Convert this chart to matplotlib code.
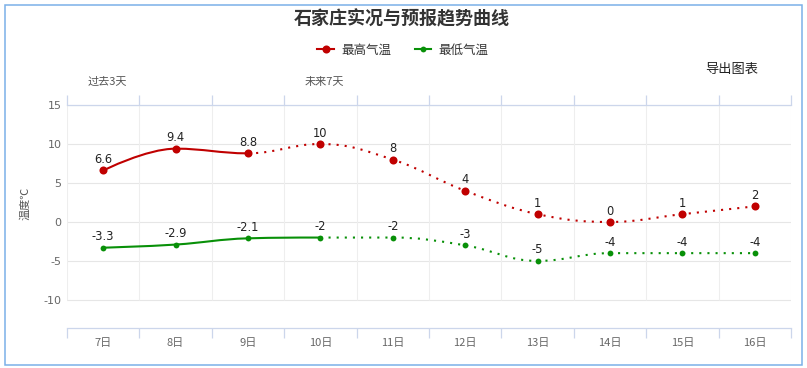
import numpy as np
import matplotlib.pyplot as plt
from matplotlib.path import Path
from matplotlib.patches import PathPatch, Rectangle
from matplotlib.lines import Line2D

plt.rcParams['font.family'] = ['Noto Sans CJK SC', 'DejaVu Sans']

# Datos
days = ['7日', '8日', '9日', '10日', '11日', '12日', '13日', '14日', '15日', '16日']
high = [6.6, 9.4, 8.8, 10, 8, 4, 1, 0, 1, 2]
low = [-3.3, -2.9, -2.1, -2, -2, -3, -5, -4, -4, -4]
high_past_end = 2   # índice donde termina el tramo observado (sólido)
low_past_end = 3
y_ticks = [-10, -5, 0, 5, 10, 15]

RED = '#c00000'
GREEN = '#089008'
AXIS = '#ccd6eb'


# Controles de la curva tipo "spline" (suavizado 1.5)
def spline_controls(xs, ys):
    n = len(xs)
    left = [(xs[i], ys[i]) for i in range(n)]
    right = [(xs[i], ys[i]) for i in range(n)]
    for i in range(1, n - 1):
        x, y = xs[i], ys[i]
        lx, ly = xs[i - 1], ys[i - 1]
        nx, ny = xs[i + 1], ys[i + 1]
        lcx, lcy = (1.5 * x + lx) / 2.5, (1.5 * y + ly) / 2.5
        rcx, rcy = (1.5 * x + nx) / 2.5, (1.5 * y + ny) / 2.5
        corr = (rcy - lcy) * (rcx - x) / (rcx - lcx) + y - rcy
        lcy += corr
        rcy += corr
        if lcy > ly and lcy > y:
            lcy = max(ly, y)
            rcy = 2 * y - lcy
        elif lcy < ly and lcy < y:
            lcy = min(ly, y)
            rcy = 2 * y - lcy
        if rcy > ny and rcy > y:
            rcy = max(ny, y)
            lcy = 2 * y - rcy
        elif rcy < ny and rcy < y:
            rcy = min(ny, y)
            lcy = 2 * y - rcy
        left[i] = (lcx, lcy)
        right[i] = (rcx, rcy)
    return left, right


def curve_path(xs, ys, left, right, i0, i1):
    verts = [(xs[i0], ys[i0])]
    codes = [Path.MOVETO]
    for i in range(i0 + 1, i1 + 1):
        verts += [right[i - 1], left[i], (xs[i], ys[i])]
        codes += [Path.CURVE4] * 3
    return Path(verts, codes)


def draw_series(ax, vals, split, color, ms):
    xs = list(range(len(vals)))
    left, right = spline_controls(xs, vals)
    ax.add_patch(PathPatch(curve_path(xs, vals, left, right, 0, split),
                           fill=False, edgecolor=color, lw=1.5, zorder=3))
    ax.add_patch(PathPatch(curve_path(xs, vals, left, right, split, len(vals) - 1),
                           fill=False, edgecolor=color, lw=1.5,
                           linestyle=(0, (1, 2.9)), zorder=3))
    ax.plot(xs, vals, linestyle='none', marker='o', ms=ms, color=color,
            mew=0, zorder=4)
    for x, v in zip(xs, vals):
        ax.annotate(f'{v:g}', (x, v), xytext=(0, 3.2), textcoords='offset points',
                    ha='center', va='bottom', fontsize=8.3, color='#222222',
                    family='DejaVu Sans', zorder=5)


W, H = 807, 368
fig = plt.figure(figsize=(W / 100, H / 100), dpi=100)
ax = fig.add_axes([67 / W, 1 - 328 / H, 724 / W, 223 / H])

ax.set_xlim(-0.5, len(days) - 0.5)
ax.set_ylim(-13.6, 15)

# Rejilla
for yv in y_ticks:
    ax.axhline(yv, color='#e6e6e6', lw=0.8, zorder=1)
ax.vlines(np.arange(-0.5, len(days)), -10, 15, color='#eeeeee', lw=0.8, zorder=1)

draw_series(ax, high, high_past_end, RED, 5.8)
draw_series(ax, low, low_past_end, GREEN, 4.2)

for s in ['left', 'right']:
    ax.spines[s].set_visible(False)
for s in ['top', 'bottom']:
    ax.spines[s].set_color(AXIS)
    ax.spines[s].set_linewidth(0.9)
    ax.spines[s].set_zorder(2)

ax.set_xticks(range(len(days)))
ax.set_xticklabels(days)
ax.set_xticks(np.arange(-0.5, len(days)), minor=True)
ax.tick_params(axis='x', which='major', length=0, pad=7, labelsize=8, labelcolor='#666666')
ax.tick_params(axis='x', which='minor', length=7, width=0.9, color=AXIS, direction='out',
               top=True, bottom=True)
ax.set_yticks(y_ticks)
ax.set_yticklabels([str(v) for v in y_ticks], family='DejaVu Sans')
ax.tick_params(axis='y', length=0, pad=4, labelsize=8, labelcolor='#666666')

ax.set_ylabel('温度℃', fontsize=8, color='#555555')
ax.yaxis.set_label_coords(-0.05, 0.56)

# Textos
fig.text(402 / W, 1 - 19 / H, '石家庄实况与预报趋势曲线', ha='center', va='center',
         fontsize=13, fontweight='bold', color='#333333')
fig.text(107 / W, 1 - 82 / H, '过去3天', ha='center', va='center', fontsize=8, color='#555555')
fig.text(324 / W, 1 - 82 / H, '未来7天', ha='center', va='center', fontsize=8, color='#555555')
fig.text(732 / W, 1 - 69 / H, '导出图表', ha='center', va='center', fontsize=9.5, color='#222222')

handles = [Line2D([], [], color=RED, lw=1.5, marker='o', ms=5.8, mew=0),
           Line2D([], [], color=GREEN, lw=1.5, marker='o', ms=4.2, mew=0)]
fig.legend(handles, ['最高气温', '最低气温'], loc='center', bbox_to_anchor=(403 / W, 1 - 50 / H),
           ncol=2, frameon=False, fontsize=9, handlelength=1.3, handletextpad=0.6,
           columnspacing=1.9, labelcolor='#333333')

fig.add_artist(Rectangle((4.5 / W, 1 - 364.5 / H), 797 / W, 360 / H, transform=fig.transFigure,
                         fill=False, edgecolor='#7ab0e8', lw=1.1))

fig.savefig('out.png', dpi=100)
